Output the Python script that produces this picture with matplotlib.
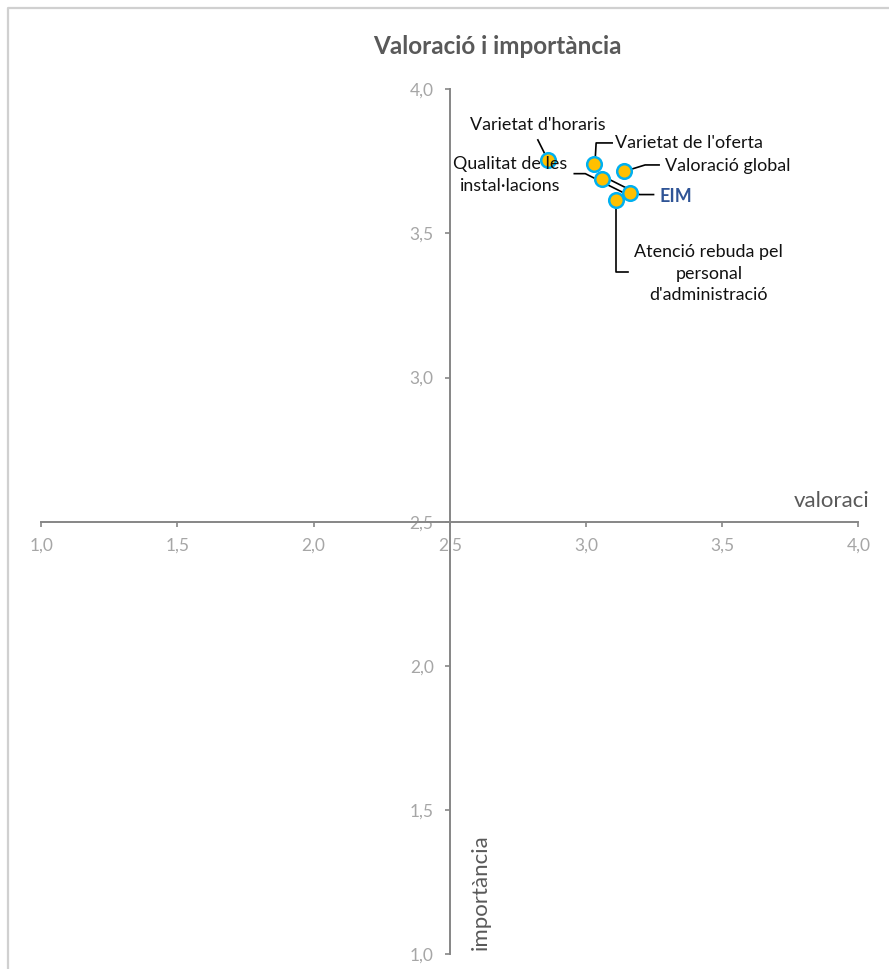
import matplotlib
matplotlib.use('Agg')
import matplotlib.pyplot as plt
from matplotlib.lines import Line2D
from matplotlib.transforms import IdentityTransform

# ---------------- data ----------------
labels = ["Varietat d'horaris", "Varietat de l'oferta", "Qualitat de les\ninstal·lacions",
          "Valoració global", "EIM", "Atenció rebuda pel\npersonal\nd'administració"]
valoracio = [2.86, 3.03, 3.06, 3.14, 3.16, 3.11]
importancia = [3.755, 3.74, 3.69, 3.715, 3.64, 3.615]
tick_values = [1.0, 1.5, 2.0, 2.5, 3.0, 3.5, 4.0]
tick_labels = ["1,0", "1,5", "2,0", "2,5", "3,0", "3,5", "4,0"]
title = "Valoració i importància"
xlabel = "valoraci"
ylabel = "importància"

# ---------------- layout ----------------
W, H = 889, 969
FONT = ['Lato', 'DejaVu Sans']
plt.rcParams['font.family'] = FONT

fig = plt.figure(figsize=(W / 100, H / 100), dpi=100)
ax = fig.add_axes([41.3 / W, (H - 954) / H, 817 / W, 864.7 / H])
ax.set_xlim(1.0, 4.0)
ax.set_ylim(1.0, 4.0)

axis_col = '#868686'
for s in ['top', 'right']:
    ax.spines[s].set_visible(False)
for s in ['left', 'bottom']:
    ax.spines[s].set_position(('data', 2.5))
    ax.spines[s].set_color(axis_col)
    ax.spines[s].set_linewidth(1.4)
ax.set_xticks(tick_values)
ax.set_xticklabels(tick_labels)
ax.set_yticks(tick_values)
ax.set_yticklabels(tick_labels)
ax.tick_params(axis='both', direction='out', length=3.6, width=1.2, color=axis_col,
               labelcolor='#A6A6A6', labelsize=12.5, pad=8)
ax.patch.set_visible(False)

ax.plot(valoracio, importancia, 'o', ms=10.5, mfc='#FFC000', mec='#00B0F0', mew=1.8,
        zorder=5, clip_on=False)

# label offsets (pixels, image y downward) relative to each point
label_layout = [
    dict(text=(-10, -35), ha='center', path=[(-10, -20), (0, 0)]),
    dict(text=(21, -21.3), ha='left', path=[(18, -21.3), (2, -21.3), (1, -4)]),
    dict(text=(-92, -3.5), ha='center', path=[(-28, -5), (-17, -5), (25, 16)]),
    dict(text=(41, -5.5), ha='left', path=[(35, -6.5), (21, -6.5), (0, 0)]),
    dict(text=(30, 3.5), ha='left', path=[(-25, -16), (10, 1.5), (24, 1.5)]),
    dict(text=(93, 73.3), ha='center', path=[(0, 6), (0, 71.7), (12, 71.7)]),
]

for i, (lab, xv, yv) in enumerate(zip(labels, valoracio, importancia)):
    px, py = ax.transData.transform((xv, yv))
    lay = label_layout[i]
    xs = [px + dx for dx, dy in lay['path']]
    ys = [py - dy for dx, dy in lay['path']]
    ax.add_line(Line2D(xs, ys, transform=IdentityTransform(), color='black', lw=1.2,
                       zorder=3, clip_on=False))
    tx = px + lay['text'][0]
    ty = py - lay['text'][1]
    is_eim = lab == "EIM"
    fig.text(tx / W, ty / H, lab, ha=lay['ha'], va='center', multialignment='center',
             fontsize=12.9, linespacing=1.42,
             color='#2F5496' if is_eim else '#111111',
             fontweight='bold' if is_eim else 'normal')

# titles
fig.text(497 / W, (H - 47) / H, title, ha='center', va='center', fontsize=17.5,
         fontweight='bold', color='#595959')
fig.text(869 / W, (H - 501) / H, xlabel, ha='right', va='center', fontsize=16,
         color='#595959')
fig.text(481 / W, (H - 950) / H, ylabel, ha='center', va='bottom', rotation=90,
         fontsize=16, color='#595959')

# chart border (partial, as in the crop)
fig.add_artist(Line2D([8 / W, 8 / W, 1.0], [0.0, (H - 8) / H, (H - 8) / H],
                      transform=fig.transFigure, color='#D0D0D0', lw=1.6))

fig.savefig('out.png', dpi=100)
